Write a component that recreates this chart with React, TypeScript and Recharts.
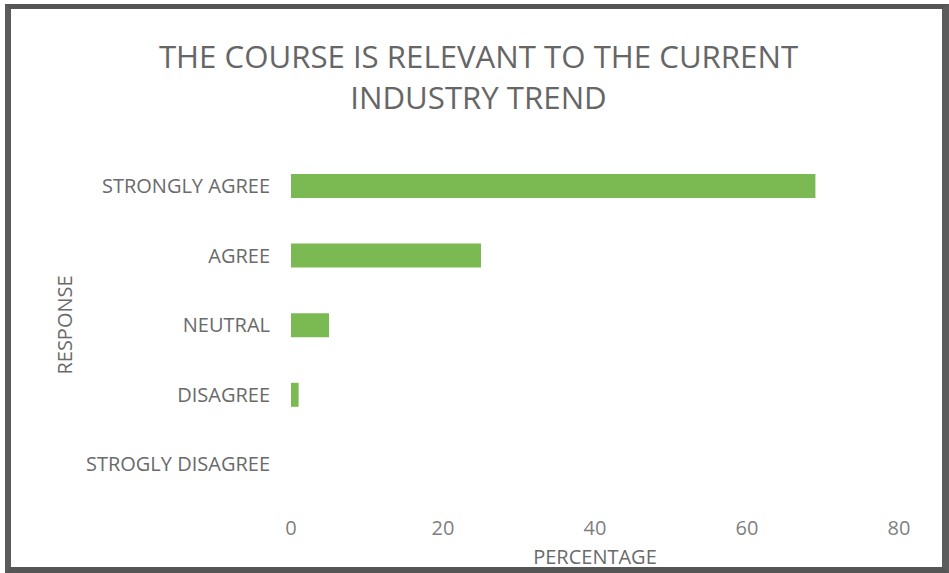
import React from "react";
import { BarChart, Bar, XAxis, YAxis, Label } from "recharts";

const categories = ["STRONGLY AGREE", "AGREE", "NEUTRAL", "DISAGREE", "STROGLY DISAGREE"];
const percentages = [69, 25, 5, 1, 0];
const xTicks = [0, 20, 40, 60, 80];
const titleLines = ["THE COURSE IS RELEVANT TO THE CURRENT", "INDUSTRY TREND"];

const data = categories.map((c, i) => ({ response: c, value: percentages[i] }));

const FONT = "'Open Sans', 'DejaVu Sans', sans-serif";

export default function App() {
  return (
    <div style={{ position: "absolute", left: 0, top: 0, width: 949, height: 573, background: "#ffffff", fontFamily: FONT, overflow: "hidden" }}>
      <div style={{ position: "absolute", left: 0, top: 0 }}>
        <BarChart
          width={949}
          height={573}
          data={data}
          layout="vertical"
          margin={{ top: 151, right: 50, bottom: 0, left: 0 }}
          barSize={24}
        >
          <XAxis
            type="number"
            domain={[0, 80]}
            ticks={xTicks}
            axisLine={false}
            tickLine={false}
            tickSize={0}
            tickMargin={22}
            height={74}
            tick={{ fill: "#7f7f7f", fontSize: 20, fontFamily: FONT }}
          >
            <Label value="PERCENTAGE" position="insideBottom" offset={9} fill="#6a6a6a" fontSize={20} fontFamily={FONT} />
          </XAxis>
          <YAxis
            type="category"
            dataKey="response"
            width={291}
            axisLine={false}
            tickLine={false}
            tickSize={0}
            tickMargin={21}
            interval={0}
            tick={{ fill: "#6a6a6a", fontSize: 20, fontFamily: FONT }}
          >
            <Label value="RESPONSE" angle={-90} position="insideLeft" offset={65} fill="#6a6a6a" fontSize={20} fontFamily={FONT} style={{ textAnchor: "middle" }} />
          </YAxis>
          <Bar dataKey="value" fill="#7bb953" isAnimationActive={false} />
        </BarChart>
      </div>
      {titleLines.map((t, i) => (
        <div
          key={i}
          style={{
            position: "absolute",
            left: 4,
            width: 949,
            top: 36 + i * 41,
            height: 41,
            lineHeight: "41px",
            textAlign: "center",
            fontSize: 31.2,
            color: "#666666",
            whiteSpace: "nowrap",
          }}
        >
          {t}
        </div>
      ))}
      <div
        style={{
          position: "absolute",
          left: 5,
          top: 4,
          width: 944,
          height: 569,
          boxSizing: "border-box",
          borderTop: "5px solid #555555",
          borderLeft: "6px solid #5c5c5c",
          borderRight: "7px solid #5c5c5c",
          borderBottom: "6px solid #555555",
          pointerEvents: "none",
        }}
      />
    </div>
  );
}
